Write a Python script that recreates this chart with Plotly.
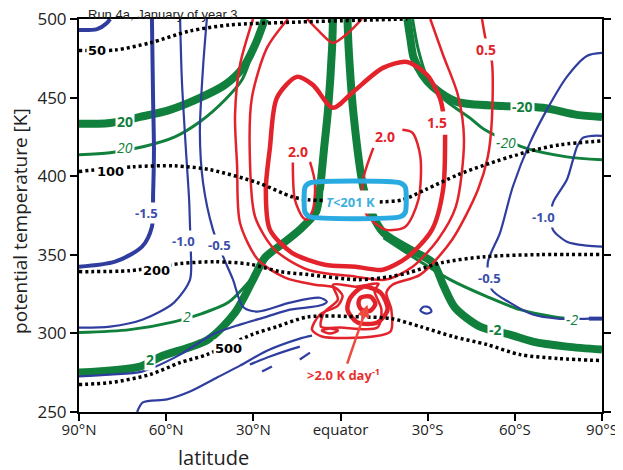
import plotly.graph_objs as go

# colours of the original figure
GREEN = '#10803c'
BLUE = '#2f3e9e'
RED = '#e3232b'
CYAN = '#29abe2'

# axes
lat_ticks = [90, 60, 30, 0, -30, -60, -90]
lat_ticktext = ['90°N', '60°N', '30°N', 'equator', '30°S', '60°S', '90°S']
theta_ticks = [250, 300, 350, 400, 450, 500]

# ---- isobars [hPa] (black dotted) ----
p50_lat = [90, 77.6, 65.6, 51.8, 38, 14, -23]
p50_th = [480, 480.3, 484.8, 492.4, 496.2, 498.1, 500]
p100_lat = [90, 71.4, 57, 44.9, 28.4, 16.7, 11.2, 0, -14.5, -21.3, -29.2, -40.4, -49.7, -64.2, -75.5, -90]
p100_th = [403, 406, 406.6, 404.1, 395.8, 386.9, 385, 384.4, 383.7, 385, 391.4, 400.9, 407.2, 415.5, 420, 422.5]
p200_lat = [90, 72.5, 55.2, 43.2, 31.2, 20.8, 11.2, -6.2, -17.2, -23.4, -34.9, -49.7, -68.6, -90]
p200_th = [339.3, 339.9, 344.4, 345.6, 344, 339.3, 337.4, 334.2, 336.1, 338.6, 345, 348.8, 350.1, 350.1]
p500_lat = [90, 79.3, 65.6, 55.2, 46, 30.1, 21.9, 11.2, -7.2, -17.5, -27.5, -38.7, -50.4, -61.8, -75, -90]
p500_th = [267.5, 268.7, 273.8, 281.4, 286.5, 299.5, 304.3, 310.5, 310.5, 309.4, 304.3, 298, 292.9, 286.5, 284, 282.7]

iso_text = ['50', '100', '200', '500']
iso_lab_lat = [83.8, 79.3, 63.2, 38.4]
iso_lab_th = [479.7, 402.8, 340, 290.3]

# ---- green contours (thick = month mean, thin = other) ----
g20_lat = [90, 79.3, 69, 58.7, 48.4, 39.8, 33.6, 29.4, 26]
g20_th = [433.3, 433.9, 437.7, 442.2, 449.8, 458.1, 468.9, 483.5, 500]
g20i_lat = [90, 79.3, 68, 57, 48.4, 39.8, 34, 31.5]
g20i_th = [413.6, 414.9, 418.7, 425, 434.6, 448.5, 461, 472]
g2_lat = [90, 69, 61.8, 45.6, 36.3, 30.1, 26, 20.8, 14, 8.4, 7.1, 5.7, 4.3, 2.9, 2.6]
g2_th = [275.1, 278.9, 285.3, 296.1, 313.2, 334.2, 348.2, 355.8, 366, 377.4, 391.4, 416.8, 442.2, 481.6, 500]
g2i_lat = [90, 72.5, 57, 47.7, 38.7, 31.8, 27, 22.2, 17.4]
g2i_th = [300.5, 302.4, 307.5, 312.6, 319.6, 332.3, 343.7, 354.5, 360.9]
gm2_lat = [-2.4, -2.8, -4.5, -7.9, -11, -14.8, -24.1, -31.8, -35.3, -39.4, -48, -58.3, -66.2, -77.9, -90]
gm2_th = [500, 481.6, 439, 392.6, 375.5, 364, 353.2, 345, 331, 316.4, 304.3, 299.2, 294.8, 291.6, 289.7]
gm2i_lat = [-14.8, -27.5, -37.7, -50.4, -61.8, -75.5, -80]
gm2i_th = [360.9, 345.6, 334.2, 323.4, 315.1, 310, 309.5]
gm20_lat = [-23, -24.1, -25.1, -28.2, -31.8, -40.1, -55.9, -69.7, -81.4, -90]
gm20_th = [500, 486.7, 475.9, 464.4, 456.8, 447.3, 444.7, 443.5, 439, 437.7]
gm20i_lat = [-24.8, -26.8, -30.2, -35.9, -44.5, -49.7, -63.5, -77.9, -90]
gm20i_th = [500, 480.3, 461.2, 448.5, 437.1, 429.5, 418, 412.3, 410.4]

green_text = ['20', '20', '2', '2', '-20', '-20', '-2', '-2']
green_italic = [False, True, False, True, False, True, False, True]
green_lab_lat = [74.2, 74.2, 65.6, 52.8, -62.8, -56.9, -53.2, -79.7]
green_lab_th = [434.6, 418, 283.5, 310.7, 444.1, 421.2, 302.5, 308.8]

# ---- blue contours ----
bhook_lat = [90, 83.8, 80.4, 79.3]
bhook_th = [493, 493.6, 497.5, 500]
b15_lat = [64.9, 64.5, 64.2, 64.5, 64.9, 68.3, 77.6, 90]
b15_th = [500, 448.5, 416.8, 388.2, 367.9, 355.2, 345.6, 342.4]
b10n_lat = [55.2, 54.6, 53.2, 52.1, 51.8, 51.5, 51.8, 57.3, 68, 79.3, 90]
b10n_th = [500, 461.2, 416.8, 385, 368.5, 352, 334.2, 319.6, 308.8, 304.3, 303.7]
b05n_lat = [46, 47.3, 48.4, 47.3, 43.9, 40.4, 37, 33.6, 28.7, 17.4, 7.1, 4.7, 7.1, 17.4, 25.3,
            34.6, 44.2, 55.2, 68.3, 79.3, 90]
b05n_th = [500, 469.5, 427.6, 395.8, 366, 348.8, 334.2, 317, 313.9, 319.6, 322.7, 320.2, 317.7, 315.1, 310.7,
           305.6, 299.2, 286.5, 275.7, 273.8, 272.6]
blow_lat = [70, 68, 59.7, 51.8, 42.5, 34.6, 25.3, 14, 9.8]
blow_th = [250, 256.1, 258, 263, 271.9, 279.5, 289, 296.7, 298.6]
bfrag1_lat = [31.2, 24.3, 17.4, 14]
bfrag1_th = [280.2, 285.3, 289.7, 291.6]
bfrag2_lat = [27, 23.6]
bfrag2_th = [275.7, 278.9]
bfrag3_lat = [14, 10.5]
bfrag3_th = [283.4, 287.8]
b05s_lat = [-90, -84.8, -77.9, -71, -65.2, -59.3, -54.9, -50.7, -52.1, -58.3, -66.2, -74.8, -85.8]
b05s_th = [478.4, 476.5, 463.2, 442.2, 421.2, 393.3, 364, 345, 327.8, 319.6, 312, 309.4, 309.4]
b05s_end_lat = [-85.5, -90]
b05s_end_th = [309.4, 309.4]
b10s_lat = [-90, -86.9, -83.4, -81.4, -80, -77.9, -73.1, -72.5, -73.1, -77.9, -84.8, -90]
b10s_th = [425.7, 425.7, 424.4, 418.7, 410.4, 397.7, 383.1, 374, 366, 358.3, 355.8, 355.2]
bloop_lat = [-27.5, -28.6, -30.6, -31.3, -29.6, -27.5]
bloop_th = [314.5, 317, 316.4, 313.9, 312.6, 314.5]

blue_text = ['-1.5', '-1.0', '-0.5', '-1.0', '-0.5']
blue_lab_lat = [66.9, 53.9, 41.8, -69.7, -51.4]
blue_lab_th = [376.7, 359, 356.4, 374.2, 335.5]

# ---- red contours: heating rate [K/day] ----
r05_lat = [30.1, 34.6, 36.3, 35.6, 34.6, 28.4, 19.1, 8.8, 1.9, -0.7, 0.9, 7.1, 9.8, 6.4, -11.3, -17.2,
           -17.5, -15.8, -17.9, -27.5, -38.4, -47.3, -50.7, -52.1, -52.1, -50, -48.7]
r05_th = [500, 470.8, 439, 407.2, 370.4, 346.9, 335.5, 331, 329.1, 324, 317.7, 312, 302.4, 298, 298, 301.2,
          315.1, 325.9, 331, 337.4, 359.6, 391.4, 412.3, 435.8, 472.7, 486.7, 500]
r10_lat = [18.1, 25.3, 30.5, 31.2, 29.4, 22.6, 11.2, -5.2, -15.5, -24.8, -33.5, -39.7, -42.5, -40.4, -35.3, -30.9]
r10_th = [500, 481.6, 449.8, 412.3, 374.2, 353.2, 340.5, 336.1, 334.2, 342.4, 359.6, 380.6, 423.1, 451.7, 477.1, 500]
r15_lat = [-35.3, -34.2, -29.8, -22.9, -14.6, -4.3, 2.6, 9.5, 15, 21.9, 24.3, 25.7, 24.3, 16.7, 5.4, -5.2,
           -14.5, -23.2, -31.5, -35.3, -36]
r15_th = [440.9, 449.8, 464.4, 472.7, 468.9, 453.6, 443.5, 458.1, 463.2, 449.8, 418, 391.4, 366, 351.3, 343.7,
          342.4, 340.5, 348.8, 366, 391.4, 426.3]
rtop_lat = [11.5, 7.1, 2.6, -2.6, -7.4]
rtop_th = [500, 491.7, 484.8, 491.1, 500]
r20a_lat = [16.4, 15.7, 12.9, 11.5, 9.5, 8.8, 10.5]
r20a_th = [409.2, 385, 373.6, 372.3, 378.7, 395.8, 409.2]
r20b_lat = [-11.3, -7.6, -8.6, -15.5, -22.3, -26.8, -27.5, -24.8, -21.3]
r20b_th = [418, 395.8, 376.8, 366, 367.9, 385, 412.3, 427.6, 429.5]
# convective blob near the surface
blob1_lat = [2.6, 0.9, 5.7, 6.7, 0, -12.7, -14.1, -11.7, -13.1, -5.2, 2.6]
blob1_th = [331, 321.5, 313.2, 304.3, 303.7, 303.7, 315.1, 327.2, 331.6, 329.7, 331]
blob2_lat = [-3.4, -7.9, -13.8, -16.2, -12.7, -5.9, -2.4, -3.4]
blob2_th = [322.7, 329.7, 325.9, 315.1, 306.9, 306.9, 315.1, 322.7]
blob3_lat = [-6.9, -10.3, -12, -10.3, -7.2, -6.2, -6.9]
blob3_th = [322.7, 323.4, 318.9, 314.5, 315.1, 318.9, 322.7]
blob4_lat = [6.4, 3.6, 0.9, 3.6, 6.4]
blob4_th = [301.8, 303.1, 301.8, 299.9, 301.8]

red_text = ['0.5', '1.5', '2.0', '2.0']
red_lab_lat = [-50, -33.2, -15.3, 14.6]
red_lab_th = [480.3, 433.9, 425, 415.5]

# cold region T < 201 K
cold_lat = [10.5, -20.5, -22.3, -22.3, -20.5, 10.5, 12.2, 12.2, 10.5]
cold_th = [395.8, 395.8, 393, 377, 374.2, 374.2, 377, 393, 395.8]

fig = go.Figure()


def add_line(lat, th, color, width, dash='solid'):
    fig.add_trace(go.Scatter(x=lat, y=th, mode='lines', hoverinfo='skip', showlegend=False,
                             line=dict(color=color, width=width, dash=dash,
                                       shape='spline', smoothing=0.8)))


# green first, red goes over it
for la, th in [(g20_lat, g20_th), (g2_lat, g2_th), (gm2_lat, gm2_th), (gm20_lat, gm20_th)]:
    add_line(la, th, GREEN, 8)
for la, th in [(g20i_lat, g20i_th), (g2i_lat, g2i_th), (gm2i_lat, gm2i_th), (gm20i_lat, gm20i_th)]:
    add_line(la, th, GREEN, 3)

add_line(bhook_lat, bhook_th, BLUE, 4)
add_line(b15_lat, b15_th, BLUE, 4)
for la, th in [(b10n_lat, b10n_th), (b05n_lat, b05n_th), (blow_lat, blow_th), (bfrag1_lat, bfrag1_th),
               (bfrag2_lat, bfrag2_th), (bfrag3_lat, bfrag3_th), (b05s_lat, b05s_th),
               (b10s_lat, b10s_th), (bloop_lat, bloop_th)]:
    add_line(la, th, BLUE, 2.2)
add_line(b05s_end_lat, b05s_end_th, BLUE, 4)

for la, th in [(r05_lat, r05_th), (r10_lat, r10_th), (rtop_lat, rtop_th), (r20a_lat, r20a_th),
               (r20b_lat, r20b_th), (blob1_lat, blob1_th), (blob4_lat, blob4_th)]:
    add_line(la, th, RED, 2.5)
for la, th in [(r15_lat, r15_th), (blob2_lat, blob2_th), (blob3_lat, blob3_th)]:
    add_line(la, th, RED, 4.5)

for la, th in [(p50_lat, p50_th), (p100_lat, p100_th), (p200_lat, p200_th), (p500_lat, p500_th)]:
    add_line(la, th, 'black', 3.5, dash='3px,3px')

fig.add_trace(go.Scatter(x=cold_lat, y=cold_th, mode='lines', hoverinfo='skip', showlegend=False,
                         line=dict(color=CYAN, width=5, shape='spline', smoothing=0.6)))

# contour labels, white boxes hide the line under them
for t, la, th in zip(iso_text, iso_lab_lat, iso_lab_th):
    fig.add_annotation(x=la, y=th, text='<b>%s</b>' % t, showarrow=False, bgcolor='white', borderpad=1,
                       font=dict(family='DejaVu Sans', size=13, color='black'))
for t, it, la, th in zip(green_text, green_italic, green_lab_lat, green_lab_th):
    txt = '<i>%s</i>' % t if it else '<b>%s</b>' % t
    fig.add_annotation(x=la, y=th, text=txt, showarrow=False, bgcolor='white', borderpad=1,
                       font=dict(family='Open Sans', size=14, color=GREEN))
for t, la, th in zip(blue_text, blue_lab_lat, blue_lab_th):
    fig.add_annotation(x=la, y=th, text='<b>%s</b>' % t, showarrow=False, bgcolor='white', borderpad=1,
                       font=dict(family='Open Sans', size=13, color='#3a4eaa'))
for t, la, th in zip(red_text, red_lab_lat, red_lab_th):
    fig.add_annotation(x=la, y=th, text='<b>%s</b>' % t, showarrow=False, bgcolor='white', borderpad=1,
                       font=dict(family='Open Sans', size=14, color=RED))

fig.add_annotation(x=-3.6, y=383.7, text='<b><i>T</i>&lt;201 K</b>', showarrow=False, bgcolor='white',
                   borderpad=2, font=dict(family='Open Sans', size=13, color='#3fb0de'))

# label with an arrow to the heating maximum
fig.add_annotation(x=-9.3, y=318.3, ax=-1, ay=273.8, axref='x', ayref='y',
                   text='<b>&gt;2.0 K day<sup>-1</sup></b>', showarrow=True,
                   arrowhead=2, arrowsize=1, arrowwidth=2.5, arrowcolor='#ee4a3e',
                   font=dict(family='Open Sans', size=13, color='#e8312f'))

# axis titles
fig.add_annotation(xref='paper', yref='paper', x=-0.113, y=0.486, xanchor='center', yanchor='middle',
                   text='potential temperature [K]', textangle=-90, showarrow=False,
                   font=dict(family='Open Sans', size=19, color='#222'))
fig.add_annotation(xref='paper', yref='paper', x=0.258, y=-0.117, xanchor='center', yanchor='middle',
                   text='latitude', showarrow=False, font=dict(family='Open Sans', size=20, color='#222'))

# the page body adds an 8 px margin, so the figure is 8 px smaller and starts 8 px in
fig.update_layout(
    width=615, height=462,
    margin=dict(l=71, r=21, t=11, b=58, autoexpand=False),
    plot_bgcolor='white', paper_bgcolor='white',
    title=dict(text='Run 4a, January of year 3', x=80 / 615, xanchor='left', y=1 - 2 / 462, yanchor='top',
               pad=dict(t=0), font=dict(family='Liberation Sans', size=13, color='#222')),
    xaxis=dict(range=[90, -90], tickvals=lat_ticks, ticktext=lat_ticktext, showgrid=False, zeroline=False,
               showline=True, linecolor='black', linewidth=2, mirror=True, ticks='outside', ticklen=7,
               tickwidth=1.5, tickcolor='black', automargin=False, ticklabeloverflow='allow',
               ticklabelstandoff=-4, tickfont=dict(family='Open Sans', size=15, color='#222')),
    yaxis=dict(range=[250, 500], tickvals=theta_ticks, showgrid=False, zeroline=False,
               showline=True, linecolor='black', linewidth=2, mirror='ticks', ticks='outside', ticklen=7,
               tickwidth=1.5, tickcolor='black', automargin=False, ticklabeloverflow='allow',
               tickfont=dict(family='Open Sans', size=17, color='#222')),
)

fig.write_html('out.html')
